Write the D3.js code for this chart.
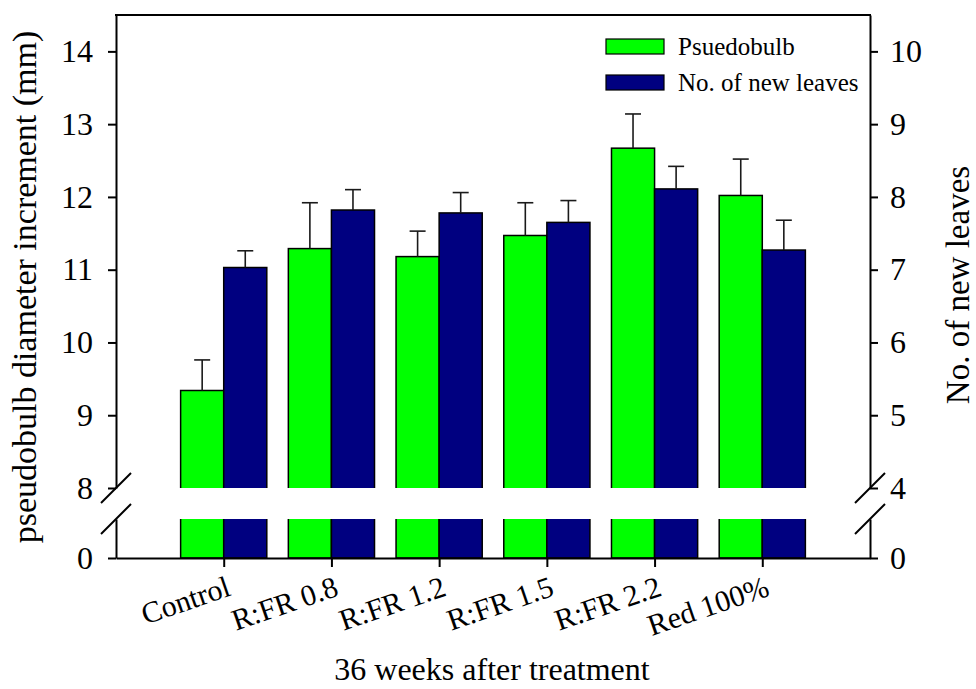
<!DOCTYPE html>
<html>
<head>
<meta charset="utf-8">
<script src="https://cdn.jsdelivr.net/npm/d3@7/dist/d3.min.js"></script>
<style>
  html, body { margin: 0; padding: 0; background: #fff; }
  svg { display: block; }
  text { font-family: "Liberation Serif", "Times New Roman", "DejaVu Serif", serif; fill: #000; }
</style>
</head>
<body>
<svg id="chart" width="976" height="689"></svg>
<script>
// Treatments and measured means with standard errors
const categories = ["Control", "R:FR 0.8", "R:FR 1.2", "R:FR 1.5", "R:FR 2.2", "Red 100%"];
const pseudobulb = [9.34, 11.29, 11.18, 11.47, 12.67, 12.02];
const pseudobulbErr = [0.42, 0.63, 0.35, 0.45, 0.47, 0.50];
const leaves = [7.03, 7.82, 7.78, 7.65, 8.11, 7.27];
const leavesErr = [0.23, 0.28, 0.28, 0.30, 0.31, 0.41];

// Tick values on each side of the axis break
const leftTicksUpper = [8, 9, 10, 11, 12, 13, 14];
const rightTicksUpper = [4, 5, 6, 7, 8, 9, 10];
const ticksLower = [0];

const seriesNames = ["Psuedobulb", "No. of new leaves"];
const seriesColors = ["#00ff00", "#000080"];

(function () {
const svg = d3.select("#chart");
const serif = '"Liberation Serif", "Times New Roman", serif';

// Plot frame
const pLeft = 116, pRight = 870, pTop = 15, pBottom = 558;
const breakHi = 488, breakLo = 519;   // y extent of the axis break gap

const x = d3.scaleLinear().domain([0, categories.length + 1]).range([pLeft, pRight]);
const barW = 0.4; // bar width in category units

// Left (mm) scales: upper segment above the break, lower segment below
const yLU = d3.scaleLinear().domain([8, 14.5]).range([breakHi, pTop]);
const yLL = d3.scaleLinear().domain([0, 0.5]).range([pBottom, breakLo]).clamp(true);
// Right (leaf count) scales
const yRU = d3.scaleLinear().domain([4, 10.5]).range([breakHi, pTop]);
const yRL = d3.scaleLinear().domain([0, 0.5]).range([pBottom, breakLo]).clamp(true);

const series = [
  { vals: pseudobulb, err: pseudobulbErr, up: yLU, lo: yLL, off: -barW, color: seriesColors[0] },
  { vals: leaves, err: leavesErr, up: yRU, lo: yRL, off: 0, color: seriesColors[1] }
];

// Bars: drawn full height, then the break gap is cleared
const gBars = svg.append("g");
series.forEach(s => {
  gBars.selectAll(null)
    .data(s.vals)
    .enter().append("rect")
    .attr("x", (d, i) => x(i + 1 + s.off))
    .attr("width", x(barW) - x(0))
    .attr("y", d => s.up(d))
    .attr("height", d => s.lo(0) - s.up(d))
    .attr("fill", s.color)
    .attr("stroke", "#000")
    .attr("stroke-width", 1.5);
});

// Break gap
svg.append("rect")
  .attr("x", pLeft + 1).attr("width", pRight - pLeft - 2)
  .attr("y", breakHi).attr("height", breakLo - breakHi)
  .attr("fill", "#fff");

// Error bars (upper only)
const gErr = svg.append("g").attr("stroke", "#1a1a1a").attr("stroke-width", 1.6).attr("fill", "none");
series.forEach(s => {
  s.vals.forEach((d, i) => {
    const cx = x(i + 1 + s.off + barW / 2);
    const y0 = s.up(d), y1 = s.up(d + s.err[i]);
    gErr.append("line").attr("x1", cx).attr("x2", cx).attr("y1", y0).attr("y2", y1);
    gErr.append("line").attr("x1", cx - 8).attr("x2", cx + 8).attr("y1", y1).attr("y2", y1);
  });
});

// Axes
const fmt = d3.format("d");
function styleAxis(g) {
  g.attr("font-family", serif);
  g.selectAll("path, line").attr("stroke", "#000").attr("stroke-width", 2);
  g.selectAll("text").style("font-size", "32px").style("font-family", serif);
}

svg.append("g").attr("transform", `translate(${pLeft},0)`)
  .call(d3.axisLeft(yLU).tickValues(leftTicksUpper).tickFormat(fmt).tickSize(8).tickSizeOuter(0).tickPadding(15))
  .call(styleAxis);
svg.append("g").attr("transform", `translate(${pLeft},0)`)
  .call(d3.axisLeft(yLL).tickValues(ticksLower).tickFormat(fmt).tickSize(8).tickSizeOuter(0).tickPadding(15))
  .call(styleAxis);
svg.append("g").attr("transform", `translate(${pRight},0)`)
  .call(d3.axisRight(yRU).tickValues(rightTicksUpper).tickFormat(fmt).tickSize(8).tickSizeOuter(0).tickPadding(12))
  .call(styleAxis);
svg.append("g").attr("transform", `translate(${pRight},0)`)
  .call(d3.axisRight(yRL).tickValues(ticksLower).tickFormat(fmt).tickSize(8).tickSizeOuter(0).tickPadding(12))
  .call(styleAxis);

// Top border
svg.append("line").attr("x1", pLeft - 1).attr("x2", pRight + 1).attr("y1", pTop).attr("y2", pTop)
  .attr("stroke", "#000").attr("stroke-width", 2);

// Category axis with slanted labels
const gx = svg.append("g").attr("transform", `translate(0,${pBottom})`)
  .call(d3.axisBottom(x).tickValues(d3.range(1, categories.length + 1))
    .tickFormat(i => categories[i - 1]).tickSize(9).tickSizeOuter(0))
  .call(styleAxis);
gx.selectAll("text")
  .style("font-size", "30px")
  .attr("text-anchor", "end")
  .attr("dy", null)
  .attr("x", 8).attr("y", 37)
  .attr("transform", "rotate(-19, 8, 37)");

// Axis break marks
const slash = [[-15, 15], [15, -15]];
[pLeft, pRight].forEach(ax => {
  [breakHi, breakLo].forEach(by => {
    svg.append("line")
      .attr("x1", ax + slash[0][0]).attr("y1", by + slash[0][1])
      .attr("x2", ax + slash[1][0]).attr("y2", by + slash[1][1])
      .attr("stroke", "#000").attr("stroke-width", 2);
  });
});

// Axis titles
svg.append("text")
  .attr("transform", `translate(36, 287) rotate(-90)`)
  .attr("text-anchor", "middle")
  .style("font-size", "34px")
  .text("pseudobulb diameter increment (mm)");
svg.append("text")
  .attr("transform", `translate(969, 285) rotate(-90)`)
  .attr("text-anchor", "middle")
  .style("font-size", "33px")
  .text("No. of new leaves");
svg.append("text")
  .attr("x", 492).attr("y", 680)
  .attr("text-anchor", "middle")
  .style("font-size", "32px")
  .text("36 weeks after treatment");

// Legend
const legend = svg.append("g");
seriesNames.forEach((name, i) => {
  const ly = 39 + i * 36;
  legend.append("rect").attr("x", 606).attr("y", ly).attr("width", 58).attr("height", 15)
    .attr("fill", seriesColors[i]).attr("stroke", "#000").attr("stroke-width", 1.2);
  legend.append("text").attr("x", 678).attr("y", ly + 16)
    .style("font-size", "25px").text(name);
});
})();
</script>
</body>
</html>
